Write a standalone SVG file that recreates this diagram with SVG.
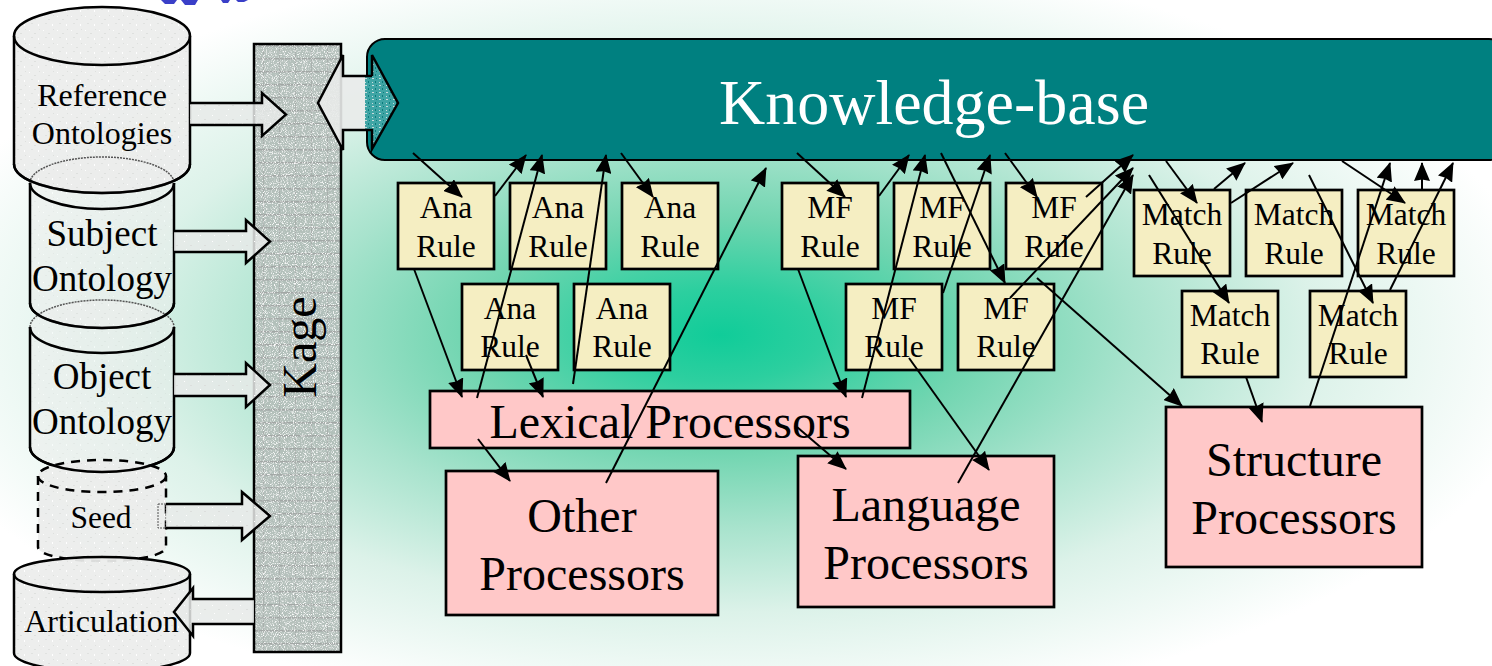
<svg xmlns="http://www.w3.org/2000/svg" width="1492" height="666" viewBox="0 0 1492 666">
<style>
text{font-family:"Liberation Serif","Times New Roman",serif;fill:#000;text-anchor:middle}
.rule rect{fill:#f5eec2;stroke:#000;stroke-width:2.700}
.rule text{font-size:31.5px}
.proc rect{fill:#ffc8c8;stroke:#000;stroke-width:2.700}
.proc text{font-size:48px}
.cyl path{fill:url(#tex);stroke:#000;stroke-width:2.5}
.cyl .rim{fill:none;stroke-width:1.5;stroke-dasharray:2 1;stroke:#555}
.dash path{stroke-dasharray:9 7}
.blk{fill:url(#tex2);stroke:#000;stroke-width:2.5}
.conn line{stroke:#000;stroke-width:2;marker-end:url(#ah)}
</style>
<defs>
<radialGradient id="bg" gradientUnits="userSpaceOnUse" cx="0" cy="0" r="1" gradientTransform="translate(720 335) scale(830 385)">
<stop offset="0" stop-color="#10cc99"/><stop offset=".12" stop-color="#2ccf9f"/><stop offset=".3" stop-color="#70d5b0"/><stop offset=".5" stop-color="#a8e3cd"/><stop offset=".72" stop-color="#dcf2e9"/><stop offset="1" stop-color="#fff"/>
</radialGradient>
<pattern id="tex" width="14" height="14" patternUnits="userSpaceOnUse">
<rect width="14" height="14" fill="#ecedec" fill-opacity=".93"/><rect x="1" y="2" width="1" height="1" fill="#fff"/><rect x="6" y="5" width="2" height="1" fill="#dee0de"/><rect x="10" y="10" width="1" height="2" fill="#fff"/><rect x="3" y="9" width="2" height="1" fill="#e0e2e0"/><rect x="11" y="1" width="1" height="1" fill="#dee0de"/>
</pattern>
<pattern id="tex2" width="14" height="14" patternUnits="userSpaceOnUse">
<rect width="14" height="14" fill="#e8eae9" fill-opacity=".85"/><rect x="2" y="3" width="1" height="1" fill="#fff"/><rect x="8" y="7" width="2" height="1" fill="#dcdedc"/><rect x="4" y="11" width="1" height="1" fill="#fff"/>
</pattern>
<pattern id="kage" width="16" height="13" patternUnits="userSpaceOnUse">
<rect width="16" height="13" fill="#b2bdb8" fill-opacity=".95"/><rect y="6" width="16" height="1.500" fill="#a2a7a5"/><rect x="7" width="1" height="13" fill="#a9b0ad"/>
</pattern>
<filter id="spk" x="0" y="0" width="1" height="1">
<feTurbulence type="fractalNoise" baseFrequency="1.1" numOctaves="1" seed="3" result="n"/>
<feColorMatrix in="n" type="matrix" values="0 0 0 0 1 0 0 0 0 1 0 0 0 0 1 4 0 0 0 -2" result="w"/>
<feComposite in="w" in2="SourceAlpha" operator="in" result="wc"/>
<feMerge><feMergeNode in="SourceGraphic"/><feMergeNode in="wc"/></feMerge>
</filter>
<pattern id="kbt" width="7" height="7" patternUnits="userSpaceOnUse">
<rect width="7" height="7" fill="#3fa5a5"/><rect x="1" y="1" width="2" height="1" fill="#c8dcdc"/><rect x="4" y="4" width="1" height="2" fill="#0b7c7c"/><rect x="5" y="1" width="1" height="1" fill="#0b7c7c"/><rect x="1" y="5" width="1" height="1" fill="#c8dcdc"/>
</pattern>
<marker id="ah" markerUnits="userSpaceOnUse" markerWidth="19" markerHeight="16" viewBox="0 0 19 16" refX="18" refY="8" orient="auto"><path d="M0 0L19 8L0 16L1.500 8Z" fill="#000"/></marker>
</defs>
<rect width="1492" height="666" fill="#fff"/>
<rect width="1492" height="666" fill="url(#bg)"/>
<g id="title-scrap" fill="#3a3fc8"><path d="M161 0h16l-3 4h-9z"/><path d="M181 0h17l-3 5h-10z"/><path d="M221 0h9l-2 3h-5z"/><path d="M236 0h12l-4 2h-6z"/></g>

<g id="kage"><rect x="254" y="44" width="87" height="608" fill="url(#kage)" filter="url(#spk)"/><rect x="254" y="44" width="87" height="608" fill="none" stroke="#000" stroke-width="2.5"/><text transform="translate(316 347) rotate(-90)" font-size="48">Kage</text></g>

<g id="ref-ontologies" class="cyl"><path d="M14 36V164C14 180 53 193 102 193S190 180 190 164V36C190 20 151 7 102 7S14 20 14 36Z"/><path style="fill:none" d="M14 36C14 52 53 65 102 65S190 52 190 36"/><text x="102" y="106" font-size="32">Reference</text><text x="102" y="144" font-size="32">Ontologies</text></g>
<g id="subject-ontology" class="cyl"><path d="M30 183V303C30 317 62 328 102 328S174 317 174 303V183C174 169 142 157 102 157S30 169 30 183Z" style="fill-opacity:.6;stroke:none"/><path d="M30 183V303C30 317 62 328 102 328S174 317 174 303V183" style="fill:none"/><path d="M30 183C30 197 62 209 102 209S174 197 174 183" style="fill:none"/><path class="rim" d="M30 183C30 169 62 157 102 157S174 169 174 183"/><path d="M14 164C14 180 53 193 102 193S190 180 190 164" style="fill:none"/><text x="102" y="246" font-size="37">Subject</text><text x="102" y="291" font-size="37">Ontology</text></g>
<g id="object-ontology" class="cyl"><path d="M30 327V447C30 461 62 472 102 472S174 461 174 447V327C174 313 142 300 102 300S30 313 30 327Z" style="fill-opacity:.6;stroke:none"/><path d="M30 327V447C30 461 62 472 102 472S174 461 174 447V327" style="fill:none"/><path d="M30 327C30 341 62 353 102 353S174 341 174 327" style="fill:none"/><path class="rim" d="M30 327C30 313 62 300 102 300S174 313 174 327"/><path d="M30 303C30 317 62 328 102 328S174 317 174 303" style="fill:none"/><text x="102" y="389" font-size="37">Object</text><text x="102" y="434" font-size="37">Ontology</text></g>
<g id="seed" class="cyl dash"><path d="M38 476V547C38 555 66 561 102 561S166 555 166 547V476C166 467 138 460 102 460S38 467 38 476Z"/><path d="M38 476C38 485 66 492 102 492S166 485 166 476" style="fill:none"/><path d="M30 447C30 461 62 472 102 472S174 461 174 447" style="fill:none;stroke-dasharray:none"/><text x="101" y="528" font-size="31.5">Seed</text></g>
<g id="articulation" class="cyl"><path d="M14 574V653C14 663 53 672 102 672S190 663 190 653V574C190 564 151 557 102 557S14 564 14 574Z"/><path style="fill:none" d="M14 574C14 584 53 592 102 592S190 584 190 574"/><text x="101.500" y="632" font-size="32">Articulation</text></g>

<g id="arrows-left">
<path class="blk" d="M190 103H262V93L286 114.500L262 136V125H190"/>
<path class="blk" d="M174 231H246V220L270 241.500L246 263V252H174"/>
<path class="blk" d="M174 374H246V363L270 385L246 407V396H174"/>
<rect x="158" y="504" width="8" height="24" fill="none" stroke="#555" stroke-width="1" stroke-dasharray="2 1"/>
<path class="blk" d="M166 504H242V492L270 516L242 540V528H166"/>
<path class="blk" d="M254 599H193V588L174 612L193 636V624H254"/>
</g>

<g id="knowledge-base"><rect x="367" y="39" width="1140" height="121" rx="18" fill="#008080" stroke="#000" stroke-width="2"/><text x="934" y="124" font-size="64" style="fill:#fff">Knowledge-base</text></g>
<g id="kb-link">
<path d="M366 76H343V55L318 103L343 150V130H366Z" fill="#e9ebea" fill-opacity=".9"/>
<path d="M365 76H372V55L398 103L372 149V130H365Z" fill="url(#kbt)"/>
<path d="M372 76H343V55L318 103L343 150V130H372V149L398 103L372 55V76" fill="none" stroke="#000" stroke-width="2.500"/>
</g>

<g id="ana1" class="rule"><rect x="398" y="183" width="96" height="86"/><text x="446" y="218">Ana</text><text x="446" y="257">Rule</text></g>
<g id="ana2" class="rule"><rect x="510" y="183" width="96" height="86"/><text x="558" y="218">Ana</text><text x="558" y="257">Rule</text></g>
<g id="ana3" class="rule"><rect x="622" y="183" width="96" height="86"/><text x="670" y="218">Ana</text><text x="670" y="257">Rule</text></g>
<g id="ana4" class="rule"><rect x="462" y="284" width="96" height="86"/><text x="510" y="319">Ana</text><text x="510" y="357">Rule</text></g>
<g id="ana5" class="rule"><rect x="574" y="284" width="96" height="86"/><text x="622" y="319">Ana</text><text x="622" y="357">Rule</text></g>
<g id="mf1" class="rule"><rect x="782" y="183" width="96" height="86"/><text x="830" y="218">MF</text><text x="830" y="257">Rule</text></g>
<g id="mf2" class="rule"><rect x="894" y="183" width="96" height="86"/><text x="942" y="218">MF</text><text x="942" y="257">Rule</text></g>
<g id="mf3" class="rule"><rect x="1006" y="183" width="96" height="86"/><text x="1054" y="218">MF</text><text x="1054" y="257">Rule</text></g>
<g id="mf4" class="rule"><rect x="846" y="284" width="96" height="86"/><text x="894" y="319">MF</text><text x="894" y="357">Rule</text></g>
<g id="mf5" class="rule"><rect x="958" y="284" width="96" height="86"/><text x="1006" y="319">MF</text><text x="1006" y="357">Rule</text></g>
<g id="match1" class="rule"><rect x="1134" y="190" width="96" height="86"/><text x="1182" y="225">Match</text><text x="1182" y="264">Rule</text></g>
<g id="match2" class="rule"><rect x="1246" y="190" width="96" height="86"/><text x="1294" y="225">Match</text><text x="1294" y="264">Rule</text></g>
<g id="match3" class="rule"><rect x="1358" y="190" width="96" height="86"/><text x="1406" y="225">Match</text><text x="1406" y="264">Rule</text></g>
<g id="match4" class="rule"><rect x="1182" y="291" width="96" height="86"/><text x="1230" y="326">Match</text><text x="1230" y="364">Rule</text></g>
<g id="match5" class="rule"><rect x="1310" y="291" width="96" height="86"/><text x="1358" y="326">Match</text><text x="1358" y="364">Rule</text></g>

<g id="lexical" class="proc"><rect x="430" y="391" width="480" height="57"/><text x="670" y="438">Lexical Processors</text></g>
<g id="other" class="proc"><rect x="446" y="471" width="272" height="144"/><text x="582" y="532">Other</text><text x="582" y="590">Processors</text></g>
<g id="language" class="proc"><rect x="798" y="456" width="256" height="151"/><text x="926" y="521">Language</text><text x="926" y="579">Processors</text></g>
<g id="structure" class="proc"><rect x="1166" y="407" width="256" height="160"/><text x="1294" y="476">Structure</text><text x="1294" y="534">Processors</text></g>

<g id="connectors" class="conn">
<line x1="413" y1="153" x2="462" y2="197"/>
<line x1="495" y1="196" x2="526" y2="155"/>
<line x1="477" y1="398" x2="542" y2="155"/>
<line x1="573" y1="384" x2="606" y2="155"/>
<line x1="621" y1="153" x2="653" y2="197"/>
<line x1="414" y1="269" x2="462" y2="397"/>
<line x1="526" y1="355" x2="543" y2="397"/>
<line x1="606" y1="483" x2="766" y2="168"/>
<line x1="797" y1="153" x2="845" y2="197"/>
<line x1="879" y1="196" x2="909" y2="155"/>
<line x1="862" y1="398" x2="925" y2="155"/>
<line x1="943" y1="293" x2="990" y2="155"/>
<line x1="941" y1="153" x2="1005" y2="283"/>
<line x1="1005" y1="153" x2="1037" y2="197"/>
<line x1="1086" y1="197" x2="1133" y2="155"/>
<line x1="1010" y1="298" x2="1133" y2="168"/>
<line x1="958" y1="483" x2="1133" y2="175"/>
<line x1="798" y1="269" x2="846" y2="397"/>
<line x1="909" y1="358" x2="989" y2="470"/>
<line x1="797" y1="427" x2="846" y2="469"/>
<line x1="478" y1="439" x2="510" y2="481"/>
<line x1="1166" y1="161" x2="1197" y2="203"/>
<line x1="1214" y1="189" x2="1245" y2="163"/>
<line x1="1231" y1="203" x2="1293" y2="163"/>
<line x1="1149" y1="175" x2="1229" y2="303"/>
<line x1="1309" y1="175" x2="1373" y2="303"/>
<line x1="1342" y1="161" x2="1405" y2="203"/>
<line x1="1310" y1="406" x2="1390" y2="163"/>
<line x1="1422" y1="189" x2="1422" y2="163"/>
<line x1="1390" y1="290" x2="1453" y2="163"/>
<line x1="1246" y1="377" x2="1262" y2="422"/>
<line x1="1037" y1="278" x2="1182" y2="406"/>
</g>
</svg>
